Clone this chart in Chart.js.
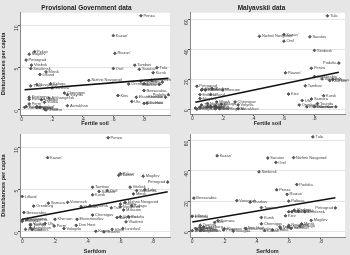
<!DOCTYPE html>
<html>
<head>
<meta charset="utf-8">
<script src="https://cdn.jsdelivr.net/npm/chart.js@4.4.1/dist/chart.umd.min.js"></script>
<style>
  html, body { margin: 0; padding: 0; background: #e6e6e6; }
  #wrap { position: relative; width: 350px; height: 255px; overflow: hidden; }
  canvas { position: absolute; }
</style>
</head>
<body>
<div id="wrap">
  <canvas id="p1" style="left:0;top:0"></canvas>
  <canvas id="p2" style="left:175px;top:0"></canvas>
  <canvas id="p3" style="left:0;top:127px"></canvas>
  <canvas id="p4" style="left:175px;top:127px"></canvas>
</div>
<script>
// provinces and the four variables
const provinces = ["Penza", "Kazan'", "Riazan'", "Orel", "Saratov", "Tambov", "Tula", "Kursk",
  "Nizhnii Novgorod", "Simbirsk", "Podolia", "Kiev", "Bessarabia", "Voronezh", "Kharkov", "Poltava",
  "Samara", "Ufa", "Orenburg", "Lifland", "Estland", "Kurland", "Petrograd", "Mogilev",
  "Pskov", "Vitebsk", "Smolensk", "Minsk", "Kaluga", "Tver'", "Chernigov", "Ekaterinoslav",
  "Kherson", "Taurida", "Don Host", "Vladimir", "Moscow", "Iaroslavl'", "Kostroma", "Perm'",
  "Vologda", "Olonets", "Arkhangel'sk", "Kovno", "Grodno", "Vilna", "Volynia", "Novgorod",
  "Astrakhan", "Viatka"];
const fertileSoil = [0.78, 0.60, 0.61, 0.60, 0.77, 0.74, 0.885, 0.86,
  0.44, 0.80, 0.96, 0.63, 0.80, 0.85, 0.90, 0.92,
  0.78, 0.72, 0.70, 0.12, 0.05, 0.10, 0.03, 0.05,
  0.085, 0.065, 0.06, 0.16, 0.19, 0.06, 0.28, 0.75,
  0.94, 0.82, 0.80, 0.13, 0.20, 0.10, 0.05, 0.05,
  0.03, 0.02, 0.18, 0.15, 0.16, 0.12, 0.30, 0.10,
  0.30, 0.15];
const serfdom = [0.525, 0.155, 0.59, 0.52, 0.47, 0.43, 0.75, 0.43,
  0.63, 0.415, 0.65, 0.58, 0.01, 0.277, 0.36, 0.60,
  0.16, 0.14, 0.07, 0.0, 0.0, 0.02, 0.89, 0.74,
  0.60, 0.66, 0.70, 0.68, 0.67, 0.545, 0.43, 0.335,
  0.20, 0.05, 0.33, 0.635, 0.62, 0.615, 0.03, 0.195,
  0.255, 0.06, 0.0, 0.45, 0.50, 0.55, 0.60, 0.60,
  0.05, 0.05];
const pgDisturb = [11.15, 8.8, 6.7, 4.9, 4.8, 5.3, 5.0, 4.4,
  3.5, 3.1, 1.8, 1.7, 2.3, 3.5, 3.0, 3.3,
  3.4, 1.0, 3.06, 4.2, 1.25, 0.3, 5.9, 6.6,
  6.9, 5.3, 4.9, 4.5, 3.1, 2.85, 2.0, 1.5,
  1.5, 0.8, 0.78, 1.2, 2.6, 0.4, 1.5, 0.7,
  0.4, 0.3, 1.4, 0.08, 0.0, 0.3, 1.8, 3.0,
  0.5, 0.9];
const malDisturb = [27.5, 50.0, 24.5, 45.6, 48.5, 15.8, 62.5, 9.2,
  48.8, 39.4, 31.0, 10.3, 22.0, 20.4, 19.3, 20.0,
  7.0, 6.0, 3.0, 10.0, 9.9, 2.0, 15.5, 7.3,
  13.0, 13.5, 13.0, 5.0, 3.5, 3.0, 5.0, 1.8,
  1.8, 4.0, 2.0, 14.0, 13.0, 2.0, 1.5, 1.0,
  0.2, 1.0, 0.5, 0.5, 1.0, 2.0, 3.0, 4.0,
  0.5, 2.5];

const xTickVals = [0, 0.2, 0.4, 0.6, 0.8];
const pgTickVals = [0, 5, 10];
const malTickVals = [0, 20, 40, 60];

const FONT = '"Liberation Sans", Arial, sans-serif';

function fmt(v) {
  if (v === 0) return '0';
  return String(v).replace(/^0\./, '.');
}

// least squares fit line, like Stata's lfit
function fitLine(xs, ys) {
  const n = xs.length;
  const mx = xs.reduce((a, b) => a + b, 0) / n;
  const my = ys.reduce((a, b) => a + b, 0) / n;
  let sxy = 0, sxx = 0;
  for (let i = 0; i < n; i++) {
    sxy += (xs[i] - mx) * (ys[i] - my);
    sxx += (xs[i] - mx) * (xs[i] - mx);
  }
  const b = sxy / sxx, a = my - b * mx;
  const x0 = Math.min(...xs), x1 = Math.max(...xs);
  return [{x: x0, y: a + b * x0}, {x: x1, y: a + b * x1}];
}

const plotBg = {
  id: 'plotBg',
  beforeDraw(chart) {
    const ctx = chart.ctx, c = chart.chartArea;
    ctx.save();
    ctx.fillStyle = '#ffffff';
    ctx.fillRect(c.left, c.top, c.right - c.left, c.bottom - c.top);
    ctx.restore();
  }
};

const provLabels = {
  id: 'provLabels',
  afterDraw(chart) {
    const meta = chart.getDatasetMeta(1);
    const ctx = chart.ctx;
    ctx.save();
    ctx.font = '4px ' + FONT;
    ctx.fillStyle = '#444';
    ctx.textBaseline = 'middle';
    meta.data.forEach((pt, i) => {
      const name = provinces[i];
      const w = ctx.measureText(name).width;
      if (pt.x + 2.5 + w > chart.width) {
        ctx.textAlign = 'right';
        ctx.fillText(name, pt.x - 2.5, pt.y);
      } else {
        ctx.textAlign = 'left';
        ctx.fillText(name, pt.x + 2.5, pt.y);
      }
    });
    ctx.restore();
  }
};

function makePanel(id, w, h, xs, ys, cfg) {
  const el = document.getElementById(id);
  el.width = w; el.height = h;
  const fit = fitLine(xs, ys);
  const pts = xs.map((v, i) => ({x: v, y: ys[i]}));
  const x = {
    type: 'linear', min: cfg.xMin, max: cfg.xMax,
    ticks: { font: { size: 5, family: FONT }, color: '#333', padding: 0, maxRotation: 0, callback: v => fmt(v) },
    grid: { drawOnChartArea: false, tickLength: 2, tickColor: '#555' },
    border: { color: '#888' },
    title: { display: true, text: cfg.xTitle, color: '#222', font: { size: 5.5, weight: 'bold', family: FONT }, padding: 0 }
  };
  x.afterBuildTicks = s => { s.ticks = xTickVals.map(v => ({value: v})); };
  x.afterFit = s => { s.height = cfg.xH; };
  const y = {
    type: 'linear', min: cfg.yMin, max: cfg.yMax,
    ticks: { font: { size: 5, family: FONT }, color: '#333', padding: 1, minRotation: 90, maxRotation: 90, callback: v => fmt(v) },
    grid: { color: '#e4e4e4', tickLength: 2, tickColor: '#555' },
    border: { color: '#888' },
    title: { display: cfg.yTitle !== '', text: cfg.yTitle, color: '#222', font: { size: 5.5, weight: 'bold', family: FONT }, padding: 0 }
  };
  y.afterBuildTicks = s => { s.ticks = cfg.yTicks.map(v => ({value: v})); };
  y.afterFit = s => { s.width = cfg.yW; };
  new Chart(el, {
    type: 'line',
    data: { datasets: [
      { data: fit, borderColor: '#111', borderWidth: 1.6, pointRadius: 0 },
      { data: pts, showLine: false, pointStyle: 'rectRot', pointRadius: 1.4, backgroundColor: '#555', borderColor: '#555' }
    ]},
    options: {
      responsive: false,
      animation: false,
      layout: { padding: { top: cfg.padTop, right: cfg.padRight } },
      plugins: {
        legend: { display: false },
        tooltip: { enabled: false },
        title: {
          display: cfg.title !== '',
          text: cfg.title,
          color: '#222',
          font: { size: 6.5, weight: 'bold', family: FONT },
          padding: { top: 4, bottom: 1 }
        }
      },
      scales: { x: x, y: y }
    },
    plugins: [plotBg, provLabels]
  });
}

makePanel('p1', 175, 127, fertileSoil, pgDisturb, {
  title: 'Provisional Government data', xTitle: 'Fertile soil', yTitle: 'Disturbances per capita',
  xMin: -0.01, xMax: 0.97, yMin: -0.6, yMax: 11.5, yTicks: pgTickVals,
  padTop: 0, padRight: 2, xH: 12, yW: 20
});
makePanel('p2', 175, 127, fertileSoil, malDisturb, {
  title: 'Malyavskii data', xTitle: 'Fertile soil', yTitle: '',
  xMin: -0.015, xMax: 1.0, yMin: -3, yMax: 64.5, yTicks: malTickVals,
  padTop: 0, padRight: 2, xH: 13, yW: 15
});
makePanel('p3', 175, 128, serfdom, pgDisturb, {
  title: '', xTitle: 'Serfdom', yTitle: 'Disturbances per capita',
  xMin: -0.014, xMax: 0.904, yMin: -0.6, yMax: 11.6, yTicks: pgTickVals,
  padTop: 7, padRight: 2, xH: 18, yW: 20
});
makePanel('p4', 175, 128, serfdom, malDisturb, {
  title: '', xTitle: 'Serfdom', yTitle: '',
  xMin: -0.014, xMax: 0.95, yMin: -3.7, yMax: 64.4, yTicks: malTickVals,
  padTop: 7, padRight: 0, xH: 18, yW: 15
});
</script>
</body>
</html>
